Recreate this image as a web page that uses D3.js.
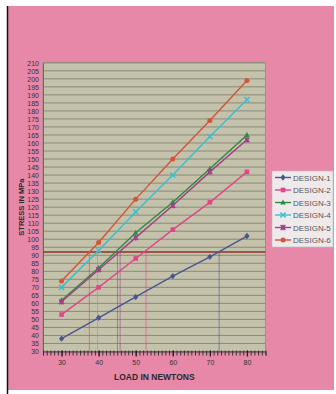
<!DOCTYPE html>
<html><head><meta charset="utf-8">
<script src="https://cdn.jsdelivr.net/npm/d3@7"></script>
<style>
html,body{margin:0;padding:0;background:#fff;}
svg{display:block;font-family:"Liberation Sans",Arial,sans-serif;}
</style></head>
<body><svg id="c" width="336" height="394"></svg>
<script>
const loads = [30, 40, 50, 60, 70, 80];
const seriesNames = ["DESIGN-1","DESIGN-2","DESIGN-3","DESIGN-4","DESIGN-5","DESIGN-6"];
const design1 = [38, 51, 64, 77, 89, 102];
const design2 = [53, 70, 88, 106, 123, 142];
const design3 = [62, 82, 104, 123, 144, 165];
const design4 = [70, 93, 117, 140, 164, 187];
const design5 = [61, 81, 101, 121, 142, 162];
const design6 = [74, 98, 125, 150, 174, 199];
const threshold = 92;
const dropX = [72.5, 52.8, 45.1, 39.7, 45.8, 37.5];
const yTicks = d3.range(30, 211, 5);
const xLabelTicks = [30, 40, 50, 60, 70, 80];
const xMinorTicks = d3.range(25, 86, 1);

const colors = ["#4a5590","#e0458a","#2e8a3e","#35c0d2","#a0408a","#d0553a"];
const markers = ["diamond","square","triangle","x","star","circle"];
const allSeries = [design1, design2, design3, design4, design5, design6];

const svg = d3.select("#c");
// backgrounds
svg.append("rect").attr("x",0).attr("y",0).attr("width",336).attr("height",394).attr("fill","#ffffff");
svg.append("rect").attr("x",8).attr("y",6).attr("width",326).attr("height",384).attr("fill","#e888a8");
svg.append("line").attr("x1",7.5).attr("x2",7.5).attr("y1",6).attr("y2",394).attr("stroke","#111").attr("stroke-width",1.5);

const L = 43, R = 265.5, T = 62.8, B = 351.5;
const x = d3.scaleLinear().domain([25, 85]).range([L, R]);
const y = d3.scaleLinear().domain([30, 210]).range([B, T]);

svg.append("rect").attr("x",L).attr("y",T).attr("width",R-L).attr("height",B-T)
  .attr("fill","#c5c2ac").attr("stroke","#9a9488").attr("stroke-width",1);

// gridlines
svg.append("g").selectAll("line").data(yTicks).join("line")
  .attr("x1",L).attr("x2",R).attr("y1",d=>y(d)).attr("y2",d=>y(d))
  .attr("stroke","#8a8a78").attr("stroke-width",1);

// y axis
const yAxis = d3.axisLeft(y).tickValues(yTicks).tickSize(0).tickPadding(4);
const gy = svg.append("g").attr("transform",`translate(${L},0)`).call(yAxis);
gy.select(".domain").attr("stroke","#6a6a60");
gy.selectAll("text").attr("font-size",7).attr("fill","#333");

// x axis
const xAxisMinor = d3.axisBottom(x).tickValues(xMinorTicks).tickSize(4).tickFormat("");
const gxm = svg.append("g").attr("transform",`translate(0,${B})`).call(xAxisMinor);
gxm.select(".domain").attr("stroke","#444");
gxm.selectAll(".tick line").attr("stroke","#333").attr("y1",-1);
const xAxis = d3.axisBottom(x).tickValues(xLabelTicks).tickSize(5).tickPadding(4);
const gx = svg.append("g").attr("transform",`translate(0,${B})`).call(xAxis);
gx.select(".domain").remove();
gx.selectAll(".tick line").attr("stroke","#222").attr("stroke-width",1.3).attr("y1",-1);
gx.selectAll("text").attr("font-size",7).attr("fill","#333");

// axis titles
svg.append("text").attr("x",(x(30)+x(80))/2).attr("y",380).attr("text-anchor","middle")
  .attr("font-size",8.5).attr("font-weight","bold").attr("fill","#2a2a2a").text("LOAD IN NEWTONS");
svg.append("text").attr("transform",`translate(24,${(T+B)/2}) rotate(-90)`).attr("text-anchor","middle")
  .attr("font-size",7.5).attr("font-weight","bold").attr("fill","#2a2a2a").text("STRESS IN MPa");

// drop lines
svg.append("g").selectAll("line").data(dropX).join("line")
  .attr("x1",d=>x(d)).attr("x2",d=>x(d)).attr("y1",y(threshold)).attr("y2",B)
  .attr("stroke",(d,i)=>colors[i]).attr("stroke-width",0.8).attr("opacity",0.75);

// threshold line
svg.append("line").attr("x1",L).attr("x2",R).attr("y1",y(threshold)).attr("y2",y(threshold))
  .attr("stroke","#8b3328").attr("stroke-width",1.6);

function drawMarker(g, type, cx, cy, col){
  const s = 2.6;
  if(type==="diamond") g.append("path").attr("d",`M${cx},${cy-s-0.6}L${cx+s},${cy}L${cx},${cy+s+0.6}L${cx-s},${cy}Z`).attr("fill",col);
  else if(type==="square") g.append("rect").attr("x",cx-2.3).attr("y",cy-2.3).attr("width",4.6).attr("height",4.6).attr("fill",col);
  else if(type==="triangle") g.append("path").attr("d",`M${cx},${cy-3}L${cx+2.8},${cy+2}L${cx-2.8},${cy+2}Z`).attr("fill",col);
  else if(type==="x") g.append("path").attr("d",`M${cx-2.6},${cy-2.6}L${cx+2.6},${cy+2.6}M${cx+2.6},${cy-2.6}L${cx-2.6},${cy+2.6}`).attr("stroke",col).attr("stroke-width",1.4);
  else if(type==="star") { g.append("path").attr("d",`M${cx-2.4},${cy-2.4}L${cx+2.4},${cy+2.4}M${cx+2.4},${cy-2.4}L${cx-2.4},${cy+2.4}M${cx},${cy-2.8}L${cx},${cy+2.8}`).attr("stroke",col).attr("stroke-width",1.4);
    g.append("rect").attr("x",cx-1.6).attr("y",cy-1.6).attr("width",3.2).attr("height",3.2).attr("fill",col); }
  else g.append("circle").attr("cx",cx).attr("cy",cy).attr("r",2.5).attr("fill",col);
}

const line = d3.line().x((d,i)=>x(loads[i])).y(d=>y(d));
allSeries.forEach((vals, si)=>{
  const g = svg.append("g");
  g.append("path").attr("d",line(vals)).attr("fill","none").attr("stroke",colors[si]).attr("stroke-width",1.4);
  vals.forEach((v,i)=>drawMarker(g, markers[si], x(loads[i]), y(v), colors[si]));
});

// legend
const lg = svg.append("g");
lg.append("rect").attr("x",272).attr("y",171).attr("width",61).attr("height",76)
  .attr("fill","#efe9ec").attr("stroke","#bbb").attr("stroke-width",0.6);
seriesNames.forEach((n,i)=>{
  const yy = 177.5 + i*12.5;
  lg.append("line").attr("x1",275).attr("x2",291).attr("y1",yy).attr("y2",yy).attr("stroke",colors[i]).attr("stroke-width",1.4);
  drawMarker(lg, markers[i], 283, yy, colors[i]);
  lg.append("text").attr("x",293).attr("y",yy+3).attr("font-size",8).attr("fill","#555").text(n);
});
</script></body></html>
